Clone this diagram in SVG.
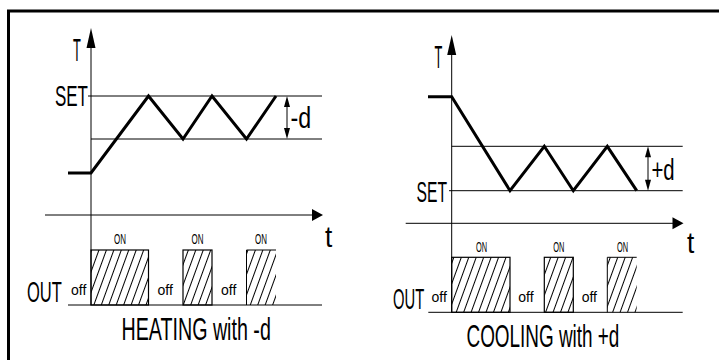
<svg xmlns="http://www.w3.org/2000/svg" width="719" height="360" viewBox="0 0 719 360">
<style>
.thin{stroke:#000;stroke-width:1;fill:none}
.thick{stroke:#000;stroke-width:3;fill:none;stroke-linejoin:miter}
.box{stroke:#000;stroke-width:1.2;fill:url(#hatch)}
.ah{fill:#000;stroke:none}
text{font-family:"Liberation Sans",Arial,sans-serif;fill:#000}
.big{font-size:32px}
.mid{font-size:29px}
.sm{font-size:14px}
</style>
<defs>
<pattern id="hatch" patternUnits="userSpaceOnUse" width="7" height="10" patternTransform="rotate(20)">
<line x1="3.5" y1="-1" x2="3.5" y2="11" stroke="#000" stroke-width="1"/>
</pattern>
</defs>
<g id="frame">
<path d="M8.5,360 V11 H719" stroke="#000" stroke-width="3" fill="none"/>
</g>
<g id="heating">
<g id="heating-axes" class="connectors">
<line class="thin" x1="91" y1="44" x2="91" y2="305"/>
<polygon class="ah" points="91,28 86.5,48 95.5,48"/>
<line class="thin" x1="45" y1="215" x2="313" y2="215"/>
<polygon class="ah" points="323,215 312,209 312,221"/>
<line class="thin" x1="88" y1="96" x2="322" y2="96"/>
<line class="thin" x1="91" y1="139" x2="322" y2="139"/>
<line class="thin" x1="68" y1="305" x2="322" y2="305"/>
<line class="thin" x1="287" y1="104" x2="287" y2="131"/>
<polygon class="ah" points="287,96 284,107 290,107"/>
<polygon class="ah" points="287,139 284,128 290,128"/>
</g>
<path id="heating-curve" class="thick" d="M68,173 H91 L148.5,96 L183,139 L212,96 L246.5,139 L276,96"/>
<g id="heating-out">
<rect class="box" x="91" y="250" width="57.5" height="55"/>
<rect class="box" x="183" y="250" width="29" height="55"/>
<rect x="246.5" y="250" width="29.5" height="55" fill="url(#hatch)"/>
<path class="thin" d="M246.5,305 V250 H276" stroke-width="1.2"/>
</g>
<g id="heating-labels">
<text class="big" transform="translate(73,61) scale(0.4,1)">T</text>
<text class="mid" transform="translate(55,106) scale(0.585,1)">SET</text>
<text class="mid" transform="translate(290.5,128) scale(0.8,1)">-d</text>
<text class="mid" transform="translate(325,247) scale(0.9,1)">t</text>
<text class="sm" transform="translate(114,243.5) scale(0.57,1)">ON</text>
<text class="sm" transform="translate(191.5,243.5) scale(0.57,1)">ON</text>
<text class="sm" transform="translate(255,243.5) scale(0.57,1)">ON</text>
<text class="sm" transform="translate(71,295) scale(1,1)">off</text>
<text class="sm" transform="translate(157.5,295) scale(1,1)">off</text>
<text class="sm" transform="translate(221,295) scale(1,1)">off</text>
<text class="mid" transform="translate(27,302) scale(0.57,1)">OUT</text>
<text class="big" transform="translate(121.5,340) scale(0.615,1)">HEATING with -d</text>
</g>
</g>
<g id="cooling">
<g id="cooling-axes" class="connectors">
<line class="thin" x1="451.7" y1="50" x2="451.7" y2="312.3"/>
<polygon class="ah" points="451.7,35 447.2,55 456.2,55"/>
<line class="thin" x1="405.7" y1="223.3" x2="674" y2="223.3"/>
<polygon class="ah" points="683.5,223.3 672.5,217.3 672.5,229.3"/>
<line class="thin" x1="449" y1="190.7" x2="682.7" y2="190.7"/>
<line class="thin" x1="451.7" y1="146.3" x2="682.7" y2="146.3"/>
<line class="thin" x1="428.3" y1="312.3" x2="682.7" y2="312.3"/>
<line class="thin" x1="648" y1="154" x2="648" y2="183"/>
<polygon class="ah" points="648,146.3 645,157.3 651,157.3"/>
<polygon class="ah" points="648,190.7 645,179.7 651,179.7"/>
</g>
<path id="cooling-curve" class="thick" d="M428,96.7 H451.7 L510,190.7 L544.3,146.3 L573.3,190.7 L607.3,146.3 L636.7,190.7"/>
<g id="cooling-out">
<rect class="box" x="451.7" y="257.3" width="58.3" height="55"/>
<rect class="box" x="544.3" y="257.3" width="29" height="55"/>
<rect x="607.3" y="257.3" width="29.4" height="55" fill="url(#hatch)"/>
<path class="thin" d="M607.3,312.3 V257.3 H636.7" stroke-width="1.2"/>
</g>
<g id="cooling-labels">
<text class="big" transform="translate(434.5,68) scale(0.4,1)">T</text>
<text class="mid" transform="translate(416.5,201.5) scale(0.54,1)">SET</text>
<text class="mid" transform="translate(651.5,180) scale(0.7,1)">+d</text>
<text class="mid" transform="translate(687,253) scale(0.9,1)">t</text>
<text class="sm" transform="translate(476,251.5) scale(0.53,1)">ON</text>
<text class="sm" transform="translate(553.3,251.5) scale(0.53,1)">ON</text>
<text class="sm" transform="translate(617,251.5) scale(0.53,1)">ON</text>
<text class="sm" transform="translate(431.5,302) scale(1,1)">off</text>
<text class="sm" transform="translate(518.3,302) scale(1,1)">off</text>
<text class="sm" transform="translate(581.7,302) scale(1,1)">off</text>
<text class="mid" transform="translate(393,308.5) scale(0.51,1)">OUT</text>
<text class="big" transform="translate(466.5,347) scale(0.591,1)">COOLING with +d</text>
</g>
</g>
</svg>
